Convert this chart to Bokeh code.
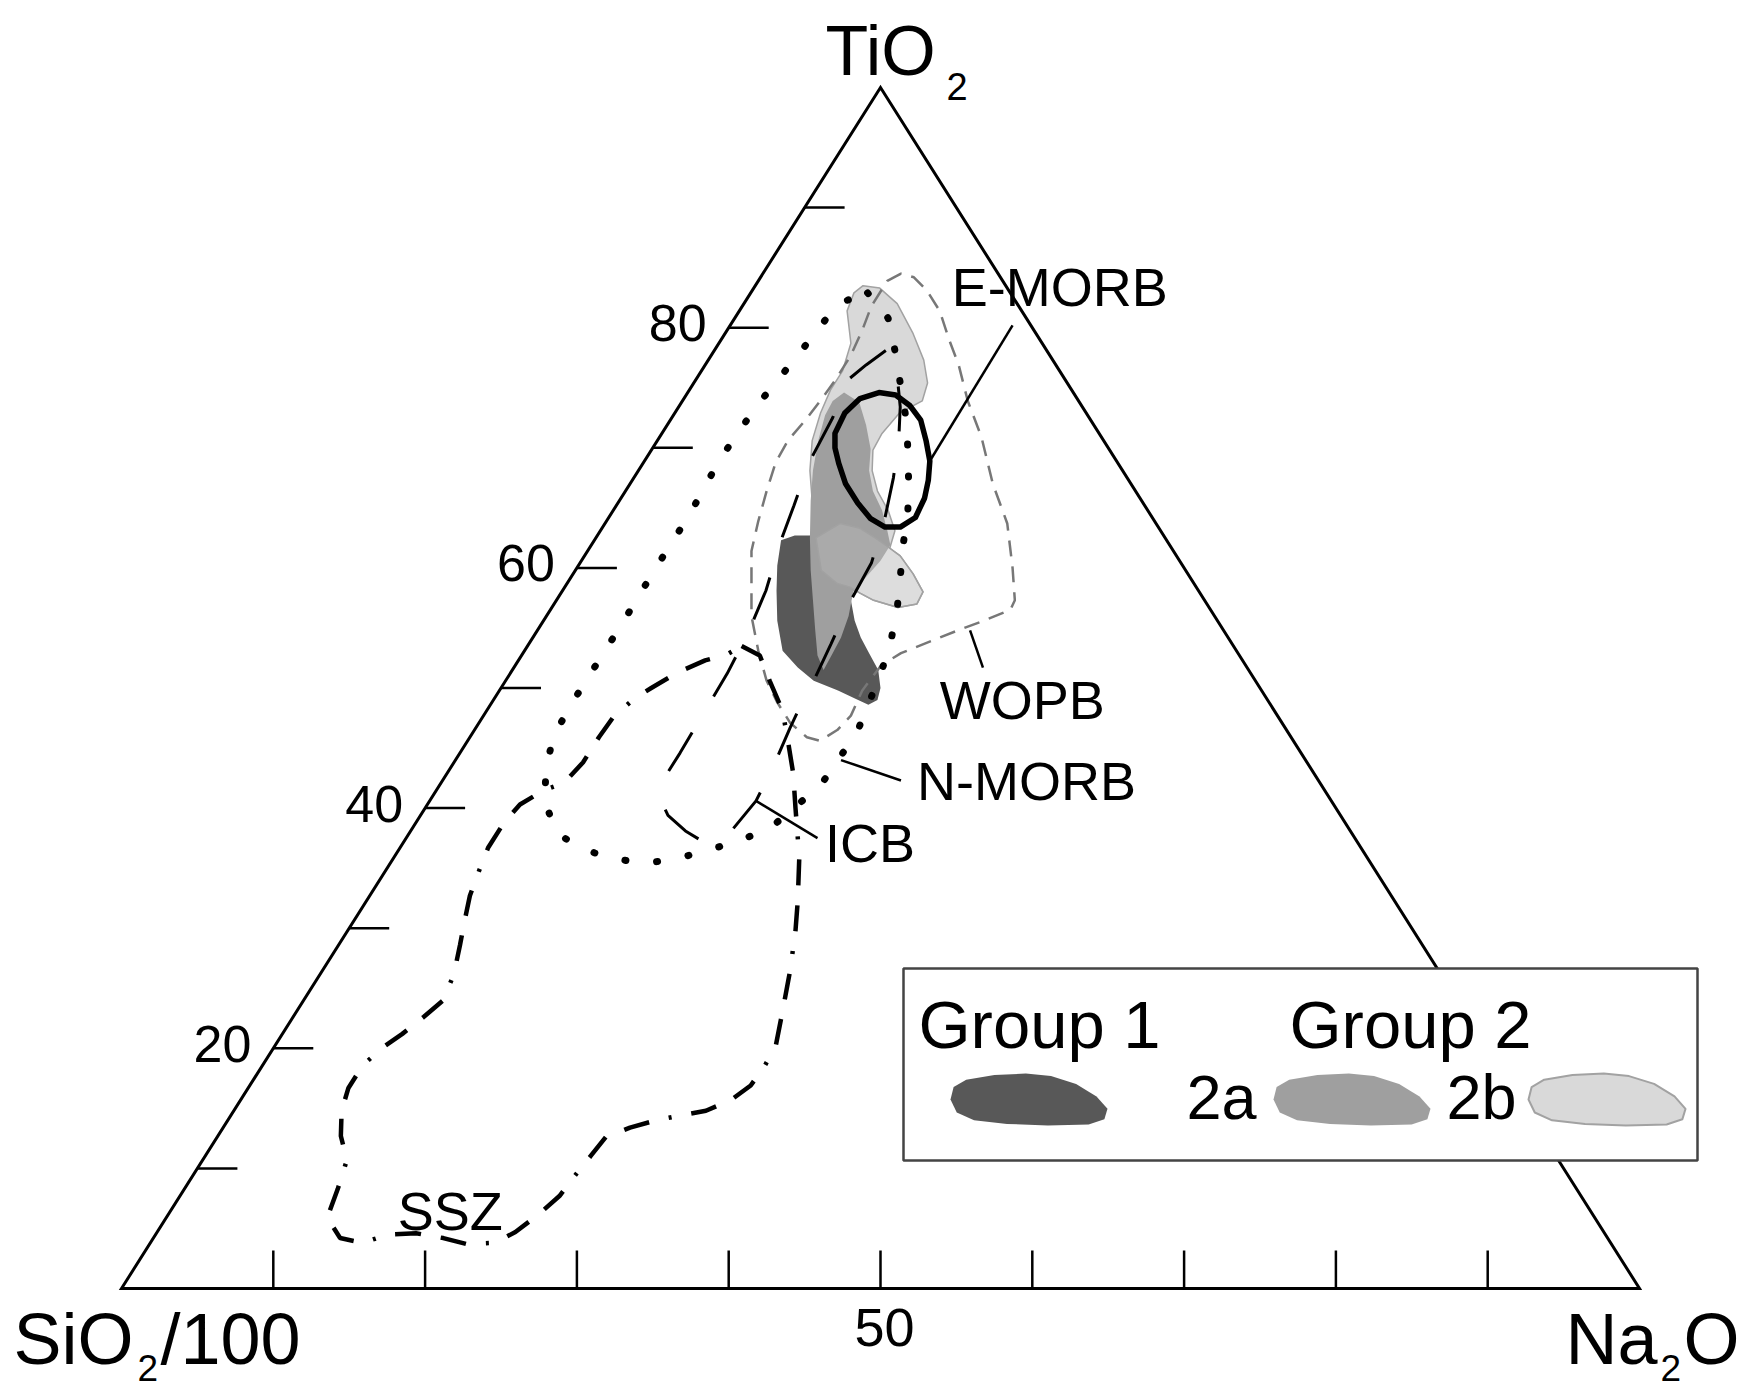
import numpy as np
from bokeh.plotting import figure
from bokeh.models import Range1d
from bokeh.core.properties import value
from bokeh.embed import file_html
from bokeh.resources import INLINE

# ---------------- data (ternary compositions, % TiO2 and % Na2O) ----------------
NMORB_TI = [82.9, 80.8, 78.1, 75.4, 72.7, 70.0, 67.3, 64.6, 62.0, 59.2, 56.6, 54.0, 51.3, 46.3, 41.9,
            38.4, 37.3, 36.5, 35.8, 35.4, 35.8, 36.6, 38.0, 40.6, 43.3, 45.9, 48.3, 50.6, 55.2, 59.8,
            64.4, 69.1, 73.5, 77.7, 82.0]
NMORB_NA = [7.7, 10.1, 11.9, 13.6, 15.3, 16.8, 18.2, 19.5, 20.5, 21.7, 22.8, 23.7, 24.4, 25.3, 25.1,
            23.6, 22.1, 20.4, 18.7, 16.8, 14.5, 12.0, 9.6, 7.6, 6.3, 5.5, 5.3, 5.3, 5.3, 5.2,
            5.2, 4.9, 5.1, 5.7, 6.2]

SSZ_TI = [53.5, 52.7, 50.6, 48.1, 45.6, 42.9, 40.0, 35.9, 32.3, 29.8, 26.5, 23.1, 20.2, 18.6, 16.9,
          15.7, 14.8, 14.4, 14.0, 13.4, 12.6, 11.1, 9.6, 7.7, 6.2, 4.7, 3.8, 3.7, 4.2, 4.6,
          4.5, 3.8, 4.2, 5.9, 8.3, 10.7, 12.7, 14.8, 16.7, 18.6, 20.1, 21.2, 22.6, 24.0, 26.2,
          28.6, 30.6, 32.7, 34.6, 36.7, 38.8, 40.3, 41.5, 42.1, 43.8, 45.9, 47.5, 49.1, 50.0, 51.3,
          52.3, 52.8]
SSZ_NA = [14.1, 15.7, 17.4, 19.5, 21.1, 22.8, 24.4, 26.7, 28.4, 29.5, 30.8, 32.0, 33.0, 33.1, 33.0,
          32.3, 31.1, 29.6, 28.2, 26.8, 25.6, 25.4, 25.2, 25.0, 24.4, 23.6, 22.7, 20.9, 19.1, 17.1,
          15.3, 14.0, 12.3, 10.6, 10.1, 9.5, 8.1, 7.1, 6.6, 6.6, 7.2, 7.9, 8.6, 9.2, 8.8,
          8.0, 7.3, 6.6, 6.2, 5.8, 5.8, 6.1, 7.1, 8.1, 8.5, 8.5, 8.6, 9.2, 9.9, 11.0,
          12.3, 13.5]

ICB_TI = [78.1, 76.9, 75.6, 72.5, 68.9, 65.2, 62.3, 58.1, 54.5, 51.2, 47.9, 44.6, 42.7, 41.0, 39.4,
          38.1, 37.1, 37.3, 40.6, 43.5, 46.7, 49.0, 50.6, 53.7, 57.3, 60.4, 64.2, 67.5, 70.6, 73.4, 76.0]
ICB_NA = [11.3, 10.6, 10.0, 10.6, 10.9, 11.7, 12.3, 13.4, 14.0, 14.3, 14.4, 14.5, 14.5, 14.9, 16.3,
          18.1, 19.9, 21.0, 21.5, 21.2, 20.7, 20.4, 20.3, 19.9, 19.4, 19.2, 18.2, 17.1, 15.9, 14.6, 13.1]

WOPB_TI = [83.9, 84.5, 84.2, 83.1, 81.4, 78.9, 76.9, 73.9, 70.9, 67.0, 63.7, 60.0, 57.3, 56.5, 55.6,
           54.8, 54.0, 52.9, 51.9, 49.8, 47.7, 46.5, 45.6, 45.9, 47.1, 48.8, 50.6, 53.1, 56.0, 59.0,
           61.4, 63.9, 66.4, 68.8, 70.6, 72.3, 74.1, 75.6, 77.7, 79.8, 81.8]
WOPB_NA = [8.5, 9.1, 10.1, 11.5, 13.2, 15.1, 16.7, 18.8, 21.2, 23.9, 26.5, 28.7, 30.2, 30.3, 29.0,
           27.7, 26.5, 24.9, 24.1, 23.9, 24.2, 23.9, 23.2, 22.2, 20.5, 18.8, 17.2, 15.4, 13.5, 12.0,
           10.8, 10.0, 9.3, 8.7, 8.6, 8.9, 9.1, 9.2, 9.2, 8.9, 8.5]

EMORB_TI = [71.2, 72.9, 74.1, 74.6, 74.4, 73.5, 72.3, 70.6, 68.9, 67.3, 65.8, 64.2, 63.4, 63.4,
            64.1, 65.4, 67.0, 68.7, 70.0]
EMORB_NA = [11.4, 11.2, 11.6, 12.6, 13.8, 15.2, 16.5, 17.7, 18.8, 19.5, 20.0, 20.2, 19.6, 18.6,
            17.3, 15.8, 14.2, 12.9, 12.0]

G1_TI = [62.3, 62.7, 62.7, 60.6, 57.3, 55.6, 54.2, 52.9, 51.5, 50.0, 49.0, 48.6, 49.1, 49.8, 50.6,
         51.7, 53.1, 55.6, 58.1, 60.2]
G1_NA = [12.3, 13.0, 14.2, 16.7, 19.4, 20.5, 21.6, 22.8, 24.1, 25.0, 25.3, 24.9, 23.8, 22.3, 20.3,
         18.7, 17.0, 15.4, 14.1, 13.1]

G2A_TI = [74.6, 73.8, 71.9, 69.9, 68.1, 66.4, 64.8, 63.1, 61.9, 60.6, 59.1, 58.0, 56.0, 54.2, 52.9,
          51.5, 52.7, 54.8, 57.3, 59.8, 62.5, 65.6, 68.1, 70.6, 72.7, 73.9]
G2A_NA = [10.3, 11.7, 13.1, 14.4, 15.2, 16.3, 17.7, 18.9, 19.7, 19.7, 19.4, 19.2, 19.9, 20.3, 20.4,
          20.5, 19.5, 18.3, 16.9, 15.5, 14.1, 12.6, 11.5, 10.6, 10.0, 9.9]

G2B_TI = [83.5, 83.3, 82.0, 79.5, 77.3, 75.4, 73.9, 72.9, 71.2, 69.8, 68.1, 66.4, 64.8, 63.1, 61.6,
          63.9, 65.6, 68.1, 70.6, 72.9, 74.8, 76.4, 78.7, 81.4, 82.9]
G2B_NA = [7.1, 8.3, 10.1, 12.4, 14.2, 15.4, 15.8, 14.8, 14.5, 14.6, 15.4, 16.6, 18.1, 19.4, 19.8,
          16.0, 12.7, 11.3, 10.2, 9.6, 9.3, 9.3, 8.7, 7.1, 6.8]

G2B_LOBE_TI = [62.5, 63.7, 63.3, 62.5, 61.7, 61.0, 59.5, 58.0, 57.0, 56.7, 57.3, 57.9, 58.4, 58.7, 59.8]
G2B_LOBE_NA = [14.5, 15.5, 17.0, 18.4, 19.7, 20.8, 22.4, 23.8, 23.9, 22.8, 20.9, 19.7, 18.8, 17.8, 16.2]

# label leaders: (Ti, Na) start -> end
LEADER_TI0 = [68.9, 54.8, 44.0, 40.6]
LEADER_NA0 = [18.8, 28.5, 25.4, 21.5]
LEADER_TI1 = [80.2, 51.7, 42.3, 37.5]
LEADER_NA1 = [18.6, 30.9, 30.2, 27.1]

FIELD_LABELS = ["E-MORB", "WOPB", "N-MORB", "ICB", "SSZ"]
FIELD_LABEL_TI = [81.8, 47.4, 40.6, 35.5, 4.8]
FIELD_LABEL_NA = [13.8, 30.2, 32.1, 28.6, 15.8]

TICK_VALUES = [10, 20, 30, 40, 50, 60, 70, 80, 90]
LEFT_TICK_LABELS = [20, 40, 60, 80]
BOTTOM_TICK_LABELS = [50]

LEGEND_GROUPS = ["Group 1", "Group 2"]
LEGEND_SUB = ["2a", "2b"]

# ---------------- layout ----------------
W, H = 1750, 1395
PXX, PXY = 1518.0, 1201.0     # pixels per unit of the ternary frame
OX, OY = 121.0, H - 1288.0    # SiO2 corner pixel position (from left, from bottom)
MID_K = 0.36                  # alphabetic baseline -> cap-middle, as a fraction of font size

DARK, MID, LIGHT, EDGE = "#585858", "#9f9f9f", "#d9d9d9", "#a2a2a2"
FONT = value("Liberation Sans")


def tern(ti, na):
    ti = np.asarray(ti, float) / 100.0
    na = np.asarray(na, float) / 100.0
    return na + ti / 2.0, ti


def scr(px, py):
    """reference-image pixel -> frame coordinates (used only for decorations)"""
    return (px - OX) / PXX, (1288.0 - py) / PXY


p = figure(width=W, height=H,
           x_range=Range1d(-OX / PXX, (W - OX) / PXX),
           y_range=Range1d(-OY / PXY, (H - OY) / PXY),
           output_backend="svg", toolbar_location=None, min_border=0,
           x_axis_location=None, y_axis_location=None,
           background_fill_color="white", border_fill_color="white")
p.grid.visible = False
p.outline_line_color = None

# triangle
p.patch([0, 0.5, 1], [0, 1, 0], fill_color=None, line_color="black", line_width=3, line_join="miter")

# ticks
tv = np.array(TICK_VALUES, float) / 100.0
p.segment(x0=tv / 2, y0=tv, x1=tv / 2 + 40 / PXX, y1=tv, line_color="black", line_width=2.5)
p.segment(x0=tv, y0=np.zeros_like(tv), x1=tv, y1=np.full_like(tv, 38 / PXY), line_color="black", line_width=2.5)

lt = np.array(LEFT_TICK_LABELS, float) / 100.0
p.text(x=lt / 2 - 22 / PXX, y=lt + 4.5 / PXY, text=[str(v) for v in LEFT_TICK_LABELS],
       text_font=FONT, text_font_size="52px", text_align="right", text_baseline="middle", text_color="black")
bt = np.array(BOTTOM_TICK_LABELS, float) / 100.0
p.text(x=bt + 4 / PXX, y=np.full_like(bt, -39 / PXY), text=[str(v) for v in BOTTOM_TICK_LABELS],
       text_font=FONT, text_font_size="54px", text_align="center", text_baseline="middle", text_color="black")

# grey fields
x, y = tern(G2B_TI, G2B_NA)
p.patch(x, y, fill_color=LIGHT, line_color=EDGE, line_width=1.5)
x, y = tern(G2B_LOBE_TI, G2B_LOBE_NA)
p.patch(x, y, fill_color=LIGHT, line_color=EDGE, line_width=1.5)
x, y = tern(G1_TI, G1_NA)
p.patch(x, y, fill_color=DARK, line_color=None)
x, y = tern(G2A_TI, G2A_NA)
p.patch(x, y, fill_color=MID, line_color=None)
x, y = tern(G2B_LOBE_TI, G2B_LOBE_NA)
p.patch(x, y, fill_color="white", fill_alpha=0.12, line_color=EDGE, line_width=1.5)

# discrimination fields
x, y = tern(WOPB_TI, WOPB_NA)
p.patch(x, y, fill_color=None, line_color="#777777", line_width=2.5, line_dash="16 10")
x, y = tern(NMORB_TI, NMORB_NA)
p.patch(x, y, fill_color=None, line_color="black", line_width=7, line_dash="1 31", line_cap="round")
x, y = tern(ICB_TI, ICB_NA)
p.patch(x, y, fill_color=None, line_color="black", line_width=3, line_dash="45 42")
x, y = tern(SSZ_TI, SSZ_NA)
p.patch(x, y, fill_color=None, line_color="black", line_width=4.5, line_dash="26 20 26 20 3 20")
x, y = tern(EMORB_TI, EMORB_NA)
p.patch(x, y, fill_color=None, line_color="black", line_width=5.5, line_join="round")

# leaders and labels
x0, y0 = tern(LEADER_TI0, LEADER_NA0)
x1, y1 = tern(LEADER_TI1, LEADER_NA1)
p.segment(x0=x0, y0=y0, x1=x1, y1=y1, line_color="black", line_width=2.5)
x, y = tern(FIELD_LABEL_TI, FIELD_LABEL_NA)
p.text(x=x, y=y + MID_K * 54 / PXY, text=FIELD_LABELS, text_font=FONT, text_font_size="54px",
       text_align="left", text_baseline="middle", text_color="black")


# corner labels / legend texts: (left, baseline) in reference pixels
def label(px, py, txt, fs):
    lx, ly = scr(px, py - MID_K * fs)
    p.text(x=[lx], y=[ly], text=[txt], text_font=FONT, text_font_size=f"{fs}px",
           text_align="left", text_baseline="middle", text_color="black")


label(825, 76, "TiO", 70)
label(946, 100, "2", 38)
label(13, 1364, "SiO", 72)
label(137, 1381, "2", 37)
label(160, 1364, "/100", 72)
label(1565, 1364, "Na", 72)
label(1660, 1381, "2", 37)
label(1683, 1364, "O", 72)

# legend box
bl, bt_ = scr(903, 968)
br, bb = scr(1697, 1160)
p.quad(left=[bl], right=[br], top=[bt_], bottom=[bb], fill_color="white", line_color="#444444", line_width=2.5)
label(918, 1048, LEGEND_GROUPS[0], 67)
label(1289, 1048, LEGEND_GROUPS[1], 67)
label(1186, 1119, LEGEND_SUB[0], 63)
label(1446, 1119, LEGEND_SUB[1], 63)

BLOB_U = np.array([0.0, 0.02, 0.1, 0.28, 0.48, 0.64, 0.8, 0.93, 1.0, 0.98, 0.88, 0.62, 0.36, 0.15, 0.04])
BLOB_V = np.array([0.5, 0.74, 0.88, 0.97, 1.0, 0.95, 0.8, 0.56, 0.32, 0.12, 0.02, 0.0, 0.03, 0.1, 0.25])
for (l, r, fc, lc) in [(950, 1107, DARK, None), (1273, 1430, MID, None), (1528, 1685, LIGHT, EDGE)]:
    xl, yb = scr(l, 1125)
    xr, yt = scr(r, 1073)
    p.patch(xl + BLOB_U * (xr - xl), yb + BLOB_V * (yt - yb), fill_color=fc, line_color=lc,
            line_width=2, line_join="round")

open("out.html", "w").write(file_html(p, INLINE))
